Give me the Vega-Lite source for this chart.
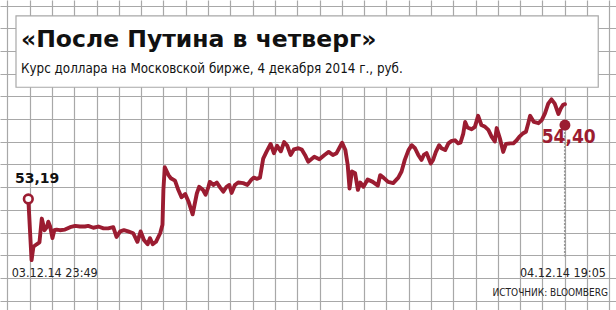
{
  "$schema": "https://vega.github.io/schema/vega-lite/v6.json",
  "width": 616,
  "height": 310,
  "padding": 0,
  "autosize": {"type": "none"},
  "background": "white",
  "config": {"view": {"stroke": null}},
  "title": {
    "text": "«После Путина в четверг»",
    "subtitle": "Курс доллара на Московской бирже, 4 декабря 2014 г., руб.",
    "anchor": "start",
    "frame": "group",
    "offset": -75,
    "dx": 21,
    "font": "DejaVu Sans",
    "fontSize": 23.5,
    "fontWeight": "bold",
    "color": "#111111",
    "subtitleFont": "DejaVu Sans Condensed",
    "subtitleFontSize": 13.3,
    "subtitleFontWeight": "normal",
    "subtitleColor": "#111111",
    "subtitlePadding": 10
  },
  "datasets": {
    "series": [
      {"time":"2014-12-03T23:49","value":53.19},
      {"time":"2014-12-03T23:56","value":52.19},
      {"time":"2014-12-04T00:00","value":52.41},
      {"time":"2014-12-04T00:07","value":52.45},
      {"time":"2014-12-04T00:13","value":52.48},
      {"time":"2014-12-04T00:18","value":52.87},
      {"time":"2014-12-04T00:24","value":52.68},
      {"time":"2014-12-04T00:29","value":52.73},
      {"time":"2014-12-04T00:32","value":52.82},
      {"time":"2014-12-04T00:36","value":52.74},
      {"time":"2014-12-04T00:41","value":52.55},
      {"time":"2014-12-04T00:45","value":52.68},
      {"time":"2014-12-04T00:50","value":52.69},
      {"time":"2014-12-04T00:57","value":52.68},
      {"time":"2014-12-04T01:08","value":52.69},
      {"time":"2014-12-04T01:19","value":52.73},
      {"time":"2014-12-04T01:30","value":52.75},
      {"time":"2014-12-04T01:40","value":52.74},
      {"time":"2014-12-04T01:51","value":52.74},
      {"time":"2014-12-04T01:58","value":52.75},
      {"time":"2014-12-04T02:09","value":52.72},
      {"time":"2014-12-04T02:20","value":52.74},
      {"time":"2014-12-04T02:31","value":52.71},
      {"time":"2014-12-04T02:41","value":52.71},
      {"time":"2014-12-04T02:52","value":52.73},
      {"time":"2014-12-04T02:59","value":52.57},
      {"time":"2014-12-04T03:07","value":52.66},
      {"time":"2014-12-04T03:15","value":52.68},
      {"time":"2014-12-04T03:24","value":52.66},
      {"time":"2014-12-04T03:35","value":52.63},
      {"time":"2014-12-04T03:44","value":52.49},
      {"time":"2014-12-04T03:51","value":52.66},
      {"time":"2014-12-04T03:58","value":52.52},
      {"time":"2014-12-04T04:06","value":52.45},
      {"time":"2014-12-04T04:11","value":52.55},
      {"time":"2014-12-04T04:17","value":52.45},
      {"time":"2014-12-04T04:24","value":52.49},
      {"time":"2014-12-04T04:33","value":52.63},
      {"time":"2014-12-04T04:38","value":52.77},
      {"time":"2014-12-04T04:40","value":53.34},
      {"time":"2014-12-04T04:43","value":53.71},
      {"time":"2014-12-04T04:51","value":53.58},
      {"time":"2014-12-04T04:56","value":53.53},
      {"time":"2014-12-04T05:05","value":53.49},
      {"time":"2014-12-04T05:12","value":53.34},
      {"time":"2014-12-04T05:19","value":53.22},
      {"time":"2014-12-04T05:27","value":53.27},
      {"time":"2014-12-04T05:34","value":53.15},
      {"time":"2014-12-04T05:43","value":52.94},
      {"time":"2014-12-04T05:52","value":53.28},
      {"time":"2014-12-04T05:57","value":53.39},
      {"time":"2014-12-04T06:05","value":53.34},
      {"time":"2014-12-04T06:11","value":53.26},
      {"time":"2014-12-04T06:17","value":53.39},
      {"time":"2014-12-04T06:20","value":53.47},
      {"time":"2014-12-04T06:28","value":53.42},
      {"time":"2014-12-04T06:35","value":53.46},
      {"time":"2014-12-04T06:42","value":53.38},
      {"time":"2014-12-04T06:49","value":53.31},
      {"time":"2014-12-04T06:56","value":53.39},
      {"time":"2014-12-04T07:02","value":53.42},
      {"time":"2014-12-04T07:07","value":53.29},
      {"time":"2014-12-04T07:14","value":53.42},
      {"time":"2014-12-04T07:21","value":53.46},
      {"time":"2014-12-04T07:32","value":53.45},
      {"time":"2014-12-04T07:41","value":53.42},
      {"time":"2014-12-04T07:50","value":53.51},
      {"time":"2014-12-04T07:55","value":53.54},
      {"time":"2014-12-04T08:01","value":53.52},
      {"time":"2014-12-04T08:08","value":53.54},
      {"time":"2014-12-04T08:15","value":53.85},
      {"time":"2014-12-04T08:22","value":53.96},
      {"time":"2014-12-04T08:31","value":54.09},
      {"time":"2014-12-04T08:38","value":53.94},
      {"time":"2014-12-04T08:45","value":54.06},
      {"time":"2014-12-04T08:53","value":53.97},
      {"time":"2014-12-04T09:00","value":54.12},
      {"time":"2014-12-04T09:07","value":54.06},
      {"time":"2014-12-04T09:14","value":53.91},
      {"time":"2014-12-04T09:21","value":54.00},
      {"time":"2014-12-04T09:31","value":54.02},
      {"time":"2014-12-04T09:38","value":54.00},
      {"time":"2014-12-04T09:45","value":53.91},
      {"time":"2014-12-04T09:52","value":53.80},
      {"time":"2014-12-04T10:05","value":53.88},
      {"time":"2014-12-04T10:16","value":53.84},
      {"time":"2014-12-04T10:27","value":53.91},
      {"time":"2014-12-04T10:36","value":53.96},
      {"time":"2014-12-04T10:45","value":53.91},
      {"time":"2014-12-04T10:53","value":53.94},
      {"time":"2014-12-04T11:05","value":54.11},
      {"time":"2014-12-04T11:12","value":53.99},
      {"time":"2014-12-04T11:17","value":53.75},
      {"time":"2014-12-04T11:21","value":53.36},
      {"time":"2014-12-04T11:26","value":53.64},
      {"time":"2014-12-04T11:33","value":53.61},
      {"time":"2014-12-04T11:39","value":53.34},
      {"time":"2014-12-04T11:44","value":53.46},
      {"time":"2014-12-04T11:51","value":53.39},
      {"time":"2014-12-04T12:00","value":53.51},
      {"time":"2014-12-04T12:11","value":53.47},
      {"time":"2014-12-04T12:22","value":53.41},
      {"time":"2014-12-04T12:27","value":53.58},
      {"time":"2014-12-04T12:34","value":53.54},
      {"time":"2014-12-04T12:44","value":53.47},
      {"time":"2014-12-04T12:55","value":53.45},
      {"time":"2014-12-04T13:06","value":53.54},
      {"time":"2014-12-04T13:13","value":53.64},
      {"time":"2014-12-04T13:20","value":53.83},
      {"time":"2014-12-04T13:28","value":53.99},
      {"time":"2014-12-04T13:35","value":54.07},
      {"time":"2014-12-04T13:42","value":54.02},
      {"time":"2014-12-04T13:49","value":53.91},
      {"time":"2014-12-04T13:56","value":53.83},
      {"time":"2014-12-04T14:01","value":53.91},
      {"time":"2014-12-04T14:07","value":53.94},
      {"time":"2014-12-04T14:16","value":53.77},
      {"time":"2014-12-04T14:21","value":53.83},
      {"time":"2014-12-04T14:27","value":53.96},
      {"time":"2014-12-04T14:34","value":54.07},
      {"time":"2014-12-04T14:39","value":54.02},
      {"time":"2014-12-04T14:47","value":53.99},
      {"time":"2014-12-04T14:54","value":54.10},
      {"time":"2014-12-04T15:01","value":54.14},
      {"time":"2014-12-04T15:08","value":54.15},
      {"time":"2014-12-04T15:15","value":54.10},
      {"time":"2014-12-04T15:20","value":54.11},
      {"time":"2014-12-04T15:26","value":54.26},
      {"time":"2014-12-04T15:30","value":54.45},
      {"time":"2014-12-04T15:35","value":54.36},
      {"time":"2014-12-04T15:44","value":54.33},
      {"time":"2014-12-04T15:51","value":54.37},
      {"time":"2014-12-04T15:58","value":54.55},
      {"time":"2014-12-04T16:05","value":54.40},
      {"time":"2014-12-04T16:13","value":54.37},
      {"time":"2014-12-04T16:20","value":54.32},
      {"time":"2014-12-04T16:27","value":54.21},
      {"time":"2014-12-04T16:34","value":54.13},
      {"time":"2014-12-04T16:38","value":54.35},
      {"time":"2014-12-04T16:45","value":54.18},
      {"time":"2014-12-04T16:52","value":53.96},
      {"time":"2014-12-04T16:58","value":54.09},
      {"time":"2014-12-04T17:07","value":54.10},
      {"time":"2014-12-04T17:14","value":54.10},
      {"time":"2014-12-04T17:21","value":54.15},
      {"time":"2014-12-04T17:27","value":54.21},
      {"time":"2014-12-04T17:34","value":54.26},
      {"time":"2014-12-04T17:41","value":54.29},
      {"time":"2014-12-04T17:46","value":54.43},
      {"time":"2014-12-04T17:50","value":54.55},
      {"time":"2014-12-04T17:58","value":54.45},
      {"time":"2014-12-04T18:08","value":54.43},
      {"time":"2014-12-04T18:15","value":54.48},
      {"time":"2014-12-04T18:22","value":54.59},
      {"time":"2014-12-04T18:29","value":54.75},
      {"time":"2014-12-04T18:36","value":54.82},
      {"time":"2014-12-04T18:43","value":54.75},
      {"time":"2014-12-04T18:51","value":54.58},
      {"time":"2014-12-04T18:56","value":54.67},
      {"time":"2014-12-04T19:01","value":54.73},
      {"time":"2014-12-04T19:05","value":54.74}
    ],
    "first": [
      {"time":"2014-12-03T23:49","value":53.19,"label":"53,19","date":"03.12.14 23:49"}
    ],
    "last": [
      {"time":"2014-12-04T19:05","value":54.40,"label":"54,40","date":"04.12.14 19:05","source":"ИСТОЧНИК: BLOOMBERG"}
    ],
    "box": [{"name": "title"}]
  },
  "layer": [
    {
      "data": {"name": "box"},
      "mark": {"type": "rect", "fill": "white", "stroke": "#a8a8a8", "strokeWidth": 1.2},
      "encoding": {
        "x": {"datum": 0.39, "type": "quantitative",
              "scale": {"domain": [-0.3274, 27.296], "nice": false, "zero": false},
              "axis": {"values": [0,1,2,3,4,5,6,7,8,9,10,11,12,13,14,15,16,17,18,19,20,21,22,23,24,25,26,27],
                       "grid": true, "gridColor": "#a8a8a8", "gridWidth": 1.2, "gridOpacity": 1,
                       "labels": false, "ticks": false, "domain": false, "title": null}},
        "x2": {"datum": 26.5},
        "y": {"datum": 0.46, "type": "quantitative",
              "scale": {"domain": [-0.2422, 13.408], "nice": false, "zero": false, "reverse": true},
              "axis": {"values": [0,1,2,3,4,5,6,7,8,9,10,11,12,13],
                       "grid": true, "gridColor": "#a8a8a8", "gridWidth": 1.2, "gridOpacity": 1,
                       "labels": false, "ticks": false, "domain": false, "title": null}},
        "y2": {"datum": 3.6}
      }
    },
    {
      "encoding": {
        "x": {"field": "time", "type": "temporal", "axis": null,
              "scale": {"domain": [{"year": 2014, "month": 12, "date": 3, "hours": 22, "minutes": 48},
                                   {"year": 2014, "month": 12, "date": 4, "hours": 20, "minutes": 55}], "nice": false}},
        "y": {"field": "value", "type": "quantitative", "axis": null,
              "scale": {"domain": [51.375, 56.444], "nice": false, "zero": false}}
      },
      "layer": [
        {
          "data": {"name": "last"},
          "mark": {"type": "rule", "color": "#999999", "strokeWidth": 2, "strokeDash": [2, 1.5]},
          "encoding": {"y2": {"datum": 52.23}}
        },
        {
          "data": {"name": "series"},
          "mark": {"type": "line", "color": "#9b1c31", "strokeWidth": 3.9, "strokeJoin": "round", "strokeCap": "round"}
        },
        {
          "data": {"name": "first"},
          "mark": {"type": "point", "shape": "circle", "filled": false, "fill": "white", "fillOpacity": 1, "stroke": "#9b1c31", "strokeWidth": 2.6, "size": 75, "opacity": 1}
        },
        {
          "data": {"name": "last"},
          "mark": {"type": "point", "shape": "circle", "filled": true, "color": "#9b1c31", "size": 120, "opacity": 1}
        },
        {
          "data": {"name": "first"},
          "mark": {"type": "text", "align": "left", "baseline": "alphabetic", "dx": -13.3, "dy": -16, "font": "DejaVu Sans", "fontWeight": "bold", "fontSize": 14, "color": "#111111"},
          "encoding": {"text": {"field": "label"}}
        },
        {
          "data": {"name": "first"},
          "mark": {"type": "text", "align": "left", "baseline": "alphabetic", "dx": -16.6, "dy": 77.5, "font": "DejaVu Sans Condensed", "fontSize": 12.5, "color": "#222222"},
          "encoding": {"text": {"field": "date"}}
        },
        {
          "data": {"name": "last"},
          "mark": {"type": "text", "align": "left", "baseline": "alphabetic", "dx": -23.3, "dy": 18, "font": "DejaVu Sans Condensed", "fontWeight": "bold", "fontSize": 19, "color": "#9b1c31"},
          "encoding": {"text": {"field": "label"}}
        },
        {
          "data": {"name": "last"},
          "mark": {"type": "text", "align": "center", "baseline": "alphabetic", "dx": -2, "dy": 151.7, "font": "DejaVu Sans Condensed", "fontSize": 12.5, "color": "#222222"},
          "encoding": {"text": {"field": "date"}}
        },
        {
          "data": {"name": "last"},
          "mark": {"type": "text", "align": "right", "baseline": "alphabetic", "dx": 43, "dy": 171, "font": "DejaVu Sans Condensed", "fontSize": 10, "color": "#222222"},
          "encoding": {"text": {"field": "source"}}
        }
      ]
    }
  ],
  "resolve": {"scale": {"x": "independent", "y": "independent"}, "axis": {"x": "independent", "y": "independent"}}
}
